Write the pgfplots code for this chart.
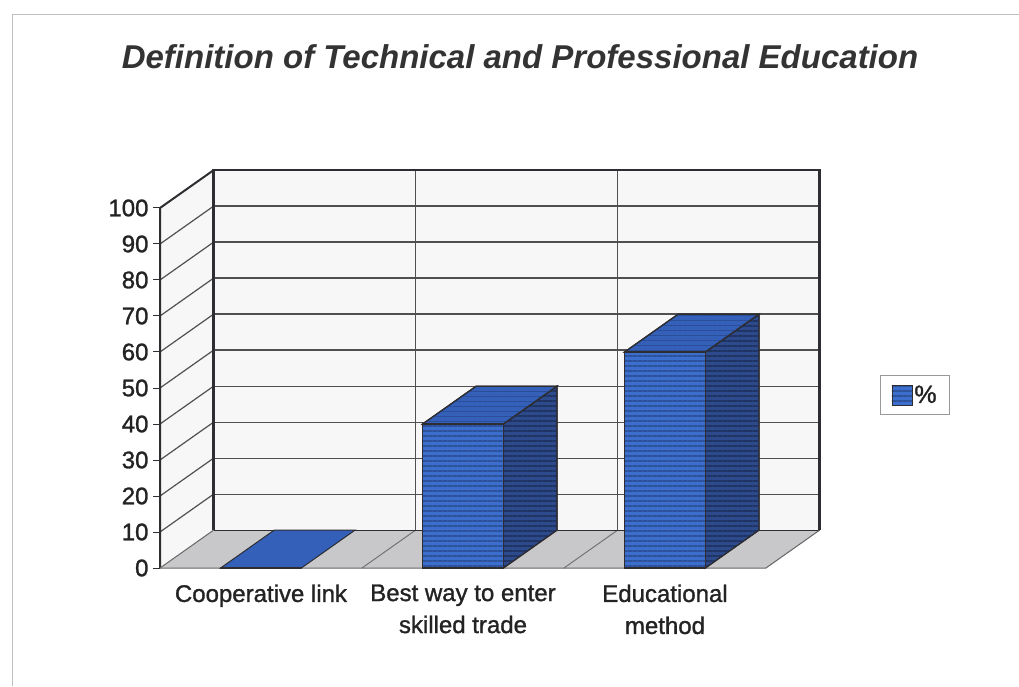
\documentclass[border=0pt]{standalone}
\usepackage{pgfplots}
\pgfplotsset{compat=1.18}
\usepackage{fontspec}
\setmainfont{Liberation Sans}
\newfontfamily\scanfont[FakeBold=1.2]{Liberation Sans}
\usetikzlibrary{patterns.meta}
\definecolor{barfront}{RGB}{60,110,205}
\definecolor{barside}{RGB}{44,74,140}
\definecolor{bartop}{RGB}{52,96,186}
\definecolor{edge}{RGB}{45,45,50}
\definecolor{floorc}{RGB}{200,200,202}
\definecolor{wallc}{RGB}{247,247,247}
\definecolor{gridc}{RGB}{80,80,80}
\definecolor{txt}{RGB}{35,35,35}
\begin{document}
\begin{tikzpicture}
\useasboundingbox (0,0) rectangle (1019pt,686pt);
\fill[white] (0,0) rectangle (1019pt,686pt);
\draw[black!25, line width=1pt] (12pt,0pt) -- (12pt,671pt) -- (1019pt,671pt);
\node[font=\fontsize{33}{38}\selectfont\bfseries\itshape, text=black!80] at (520pt,629pt) {Definition of Technical and Professional Education};
\begin{axis}[
  at={(160pt,118pt)}, anchor=south west,
  scale only axis, width=659.5pt, height=397.8pt,
  xmin=-0.5, xmax=2.765, ymin=0, ymax=110.5,
  axis lines*=left, axis line style={draw=none},
  clip=false,
  unbounded coords=jump,
  xtick={0,1,2},
  xticklabels={Cooperative link,{Best way to enter\\skilled trade},{Educational\\method}},
  xticklabel style={align=center, font=\scanfont\fontsize{24}{32}\selectfont, text=txt, yshift=-6pt},
  xtick style={draw=none},
  ytick={0,10,...,100},
  yticklabel style={font=\scanfont\fontsize{24}{28}\selectfont, text=txt, xshift=-1pt},
  /pgf/number format/assume math mode=true,
  ytick style={draw=edge, line width=1pt},
  tick align=outside, major tick length=7pt,
  legend style={at={(axis description cs:1.092,0.435)}, anchor=west, draw=black!40, line width=0.8pt,
    font=\scanfont\fontsize{25}{28}\selectfont, text=txt, inner xsep=11pt, inner ysep=8pt},
  legend image code/.code={\draw[fill=barfront, draw=edge, line width=0.8pt] (0pt,-10pt) rectangle (20pt,10pt);},
]
% left wall
\addplot[fill=wallc, draw=none, forget plot] coordinates {(-0.5,0) (-0.235,10.5) (-0.235,110.5) (-0.5,100)} -- cycle;
% back wall
\addplot[fill=wallc, draw=none, forget plot] coordinates {(-0.235,10.5) (2.765,10.5) (2.765,110.5) (-0.235,110.5)} -- cycle;
% floor
\addplot[fill=floorc, draw=none, forget plot] coordinates {(-0.5,0) (2.5,0) (2.765,10.5) (-0.235,10.5)} -- cycle;
% back wall gridlines
\addplot[gridc, line width=1.4pt, forget plot] coordinates {
(-0.235,20.5) (2.765,20.5) (nan,nan)
(-0.235,30.5) (2.765,30.5) (nan,nan)
(-0.235,40.5) (2.765,40.5) (nan,nan)
(-0.235,50.5) (2.765,50.5) (nan,nan)
(-0.235,60.5) (2.765,60.5) (nan,nan)
(-0.235,70.5) (2.765,70.5) (nan,nan)
(-0.235,80.5) (2.765,80.5) (nan,nan)
(-0.235,90.5) (2.765,90.5) (nan,nan)
(-0.235,100.5) (2.765,100.5) (nan,nan)
(0.765,10.5) (0.765,110.5) (nan,nan)
(1.765,10.5) (1.765,110.5)
};
% left wall gridlines
\addplot[gridc, line width=1.2pt, forget plot] coordinates {
(-0.5,10) (-0.235,20.5) (nan,nan)
(-0.5,20) (-0.235,30.5) (nan,nan)
(-0.5,30) (-0.235,40.5) (nan,nan)
(-0.5,40) (-0.235,50.5) (nan,nan)
(-0.5,50) (-0.235,60.5) (nan,nan)
(-0.5,60) (-0.235,70.5) (nan,nan)
(-0.5,70) (-0.235,80.5) (nan,nan)
(-0.5,80) (-0.235,90.5) (nan,nan)
(-0.5,90) (-0.235,100.5)
};
% floor lines
\addplot[black!55, line width=1pt, forget plot] coordinates {
(0.5,0) (0.765,10.5) (nan,nan)
(1.5,0) (1.765,10.5)
};
% wall borders
\addplot[edge, line width=2.2pt, forget plot] coordinates {(-0.235,10.5) (-0.235,110.5) (2.765,110.5) (2.765,10.5)};
\addplot[edge, line width=1.4pt, forget plot] coordinates {(-0.235,10.5) (2.765,10.5)};
\addplot[edge, line width=2pt, forget plot] coordinates {(-0.5,0) (-0.5,100) (-0.235,110.5)};
\addplot[black!60, line width=1pt, forget plot] coordinates {(-0.5,0) (-0.235,10.5)};
\addplot[black!60, line width=1pt, forget plot] coordinates {(-0.5,0) (2.5,0) (2.765,10.5)};
% bar 1 (value 0): flat top
\addplot[fill=bartop, draw=edge, line width=1pt, forget plot] coordinates {(-0.2,0) (0.2,0) (0.465,10.5) (0.065,10.5)} -- cycle;
% bar 2 (value 40)
\addplot[fill=barside, draw=edge, line width=1.2pt, forget plot, postaction={pattern={Lines[angle=0,distance=5pt,line width=1.2pt]}, pattern color=barside!70!black}] coordinates {(1.2,0) (1.465,10.5) (1.465,50.5) (1.2,40)} -- cycle;
\addplot[fill=bartop, draw=edge, line width=1.2pt, forget plot, postaction={pattern={Lines[angle=0,distance=5pt,line width=1pt]}, pattern color=bartop!80!black}] coordinates {(0.8,40) (1.2,40) (1.465,50.5) (1.065,50.5)} -- cycle;
% bar 3 (value 60)
\addplot[fill=barside, draw=edge, line width=1.2pt, forget plot, postaction={pattern={Lines[angle=0,distance=5pt,line width=1.2pt]}, pattern color=barside!70!black}] coordinates {(2.2,0) (2.465,10.5) (2.465,70.5) (2.2,60)} -- cycle;
\addplot[fill=bartop, draw=edge, line width=1.2pt, forget plot, postaction={pattern={Lines[angle=0,distance=5pt,line width=1pt]}, pattern color=bartop!80!black}] coordinates {(1.8,60) (2.2,60) (2.465,70.5) (2.065,70.5)} -- cycle;
% front faces
\addplot[ybar, bar width=0.4, fill=barfront, draw=edge, line width=1.2pt, postaction={pattern={Lines[angle=0,distance=5pt,line width=1.2pt]}, pattern color=barfront!75!black}] coordinates {(0,0) (1,40) (2,60)};
\addlegendentry{\%}
\end{axis}
\end{tikzpicture}
\end{document}
